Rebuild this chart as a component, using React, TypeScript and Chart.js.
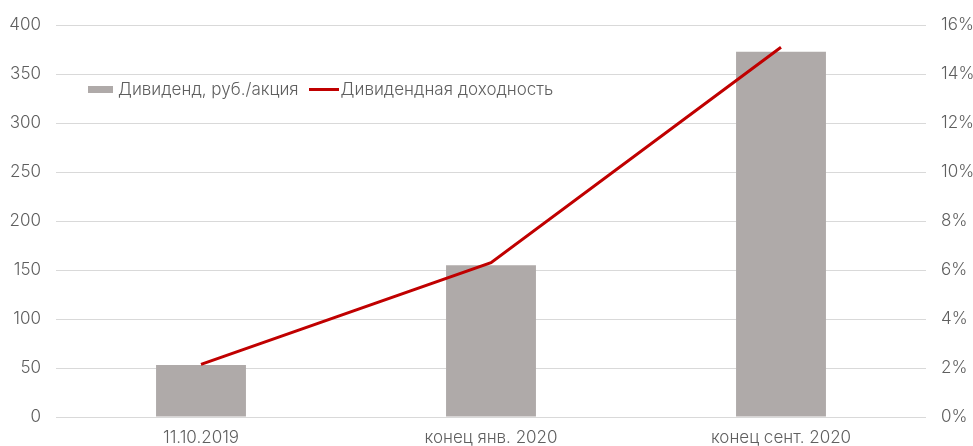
import React, { useEffect, useRef } from "react";
import { Chart, registerables } from "chart.js";

Chart.register(...registerables);

const categories = ["11.10.2019", "конец янв. 2020", "конец сент. 2020"];
const dividends = [53, 155, 373];
const yieldPct = [2.15, 6.3, 15.1];
const barLabel = "Дивиденд, руб./акция";
const lineLabel = "Дивидендная доходность";

const FONT = "Inter, 'Noto Sans', sans-serif";
const TXT = "#5f5f5f";
const FS = 17;
const FW = 300 as any;

export default function App() {
  const ref = useRef<HTMLCanvasElement>(null);
  useEffect(() => {
    if (!ref.current) return;
    const chart = new Chart(ref.current, {
      type: "bar",
      data: {
        labels: categories,
        datasets: [
          {
            type: "line",
            label: lineLabel,
            data: yieldPct,
            yAxisID: "y1",
            borderColor: "#c00000",
            backgroundColor: "#c00000",
            borderWidth: 3,
            pointRadius: 0,
            tension: 0,
            order: 0,
          },
          {
            type: "bar",
            label: barLabel,
            data: dividends,
            yAxisID: "y",
            backgroundColor: "#afaaa9",
            barPercentage: 0.62,
            categoryPercentage: 0.5,
            order: 1,
          },
        ],
      },
      options: {
        responsive: false,
        animation: false,
        layout: { padding: { left: 0, right: 0, top: 14, bottom: 0 } },
        plugins: { legend: { display: false }, tooltip: { enabled: false } },
        scales: {
          x: {
            grid: { display: false, drawTicks: false },
            border: { display: false },
            ticks: { color: TXT, font: { family: FONT, size: FS, weight: FW }, padding: 11, maxRotation: 0 },
            afterFit: (s: any) => {
              s.height = 29;
            },
          },
          y: {
            position: "left",
            min: 0,
            max: 400,
            grid: { color: "#d9d9d9", drawTicks: false, lineWidth: 1 },
            border: { display: false },
            ticks: { stepSize: 50, color: TXT, font: { family: FONT, size: FS, weight: FW }, padding: 15 },
            afterFit: (s: any) => {
              s.width = 56;
            },
          },
          y1: {
            position: "right",
            min: 0,
            max: 16,
            grid: { display: false, drawTicks: false },
            border: { display: false },
            ticks: {
              stepSize: 2,
              color: TXT,
              font: { family: FONT, size: FS, weight: FW },
              padding: 15,
              callback: (v: any) => v + "%",
            },
            afterFit: (s: any) => {
              s.width = 47;
            },
          },
        },
      },
    });
    return () => chart.destroy();
  }, []);

  return (
    <div style={{ position: "absolute", left: 0, top: 0, width: 973, height: 446, background: "#fff" }}>
      <canvas ref={ref} width={973} height={446} style={{ display: "block" }} />
      <div
        style={{
          position: "absolute",
          left: 88,
          top: 79,
          display: "flex",
          alignItems: "center",
          fontFamily: FONT,
          fontSize: FS,
          fontWeight: 300,
          color: TXT,
          whiteSpace: "nowrap",
        }}
      >
        <span style={{ display: "inline-block", width: 25, height: 7, background: "#afaaa9", marginRight: 5 }} />
        <span>{barLabel}</span>
        <span style={{ display: "inline-block", width: 30, height: 3, background: "#c00000", marginLeft: 10, marginRight: 2 }} />
        <span>{lineLabel}</span>
      </div>
    </div>
  );
}
